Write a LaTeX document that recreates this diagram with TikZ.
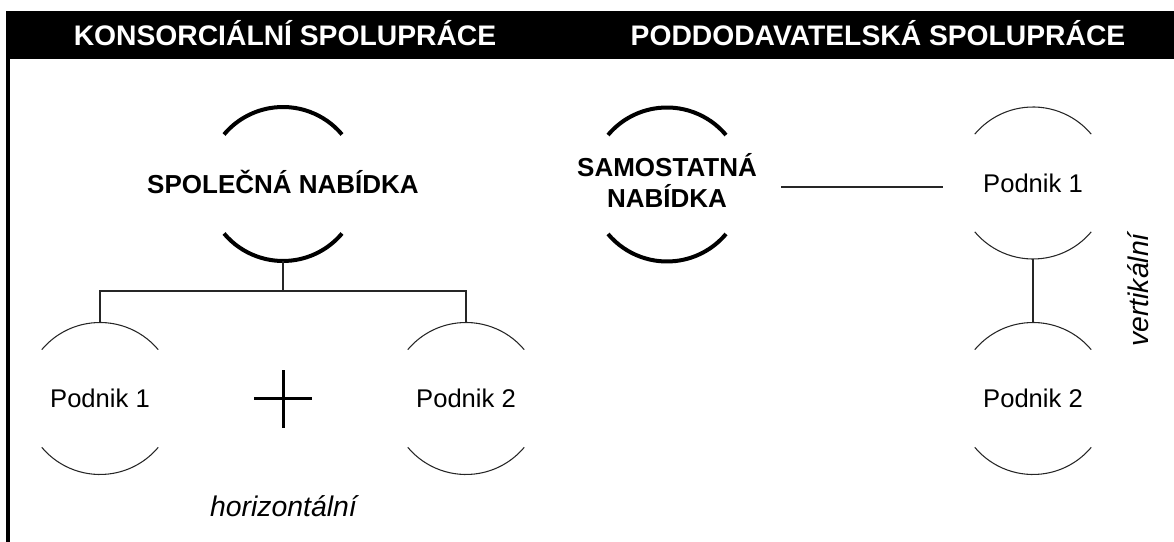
\documentclass[tikz,border=0pt]{standalone}
\usepackage{fontspec}
\setmainfont{Liberation Sans}
\usepackage{tikz}
\tikzstyle{offer}=[circle,minimum size=115.5pt,inner sep=0pt,outer sep=0pt,font=\bfseries\fontsize{19.5}{20.25}\selectfont]
\tikzstyle{firm}=[circle,minimum size=114pt,inner sep=0pt,outer sep=0pt,font=\fontsize{19.2}{22}\selectfont,text height=13.75pt,text depth=0pt]
\tikzstyle{edge} = [draw,line width=1pt,black!85,-]
\tikzstyle{title}=[text=white,anchor=base,font=\bfseries\fontsize{21.2}{25}\selectfont]
\tikzstyle{kind}=[anchor=base,font=\itshape\fontsize{21.3}{25}\selectfont]

\begin{document}
\begin{tikzpicture}[x=0.75pt,y=0.75pt]
  \useasboundingbox (0,0) rectangle (1174,542);
  % header band and left rule
  \fill[black] (6,483) rectangle (1174,531);
  \fill[black] (6,0) rectangle (10,531);
  \node[title] (konz) at (285,496.5) {KONSORCIÁLNÍ SPOLUPRÁCE};
  \node[title] (podd) at (878,496.5) {PODDODAVATELSKÁ SPOLUPRÁCE};
  % left side
  \node[offer,text height=14pt,text depth=0pt] (spol) at (283,358) {\makebox[0pt]{SPOLEČNÁ NABÍDKA}};
  \node[firm] (kp1) at (100,143.5) {Podnik 1};
  \node[firm] (kp2) at (466,143.5) {Podnik 2};
  \coordinate (plus) at (283,143.3);
  \node[kind] (hor) at (283.5,25) {horizontální};
  % right side
  \node[offer] (sam) at (667,357.5) {\makebox[0pt]{\begin{tabular}{@{}c@{}}SAMOSTATNÁ\\NABÍDKA\end{tabular}}};
  \node[firm] (rp1) at (1033,359) {Podnik 1};
  \node[firm] (rp2) at (1033,143.5) {Podnik 2};
  \node[kind,rotate=90] (ver) at (1148,252) {vertikální};
  % arcs round the nodes
  \foreach \n/\r/\w/\c in {spol/57.75pt/3pt/black, sam/57.75pt/3pt/black,
      kp1/57pt/0.8pt/black!85, kp2/57pt/0.8pt/black!85,
      rp1/57pt/0.8pt/black!85, rp2/57pt/0.8pt/black!85}{
    \draw[line width=\w,\c] (\n.40) arc[start angle=40,end angle=140,radius=\r];
    \draw[line width=\w,\c] (\n.220) arc[start angle=220,end angle=320,radius=\r];
  }
  % connectors
  \draw[edge] (spol.south) -- ++(0,-30) coordinate (fork);
  \draw[edge] (fork) -| (kp1.north);
  \draw[edge] (fork) -| (kp2.north);
  \draw[edge,shorten <=27.75pt,shorten >=10.5pt] ([yshift=-1.9pt]sam.east) -- ([yshift=-1.9pt]sam.east -| rp1.west);
  \draw[edge] (rp1.south) -- (rp2.north);
  \draw[line width=2.25pt] (plus) ++(-29,0) -- ++(58,0);
  \draw[line width=2.25pt] (plus) ++(0,-29) -- ++(0,58);
\end{tikzpicture}
\end{document}
